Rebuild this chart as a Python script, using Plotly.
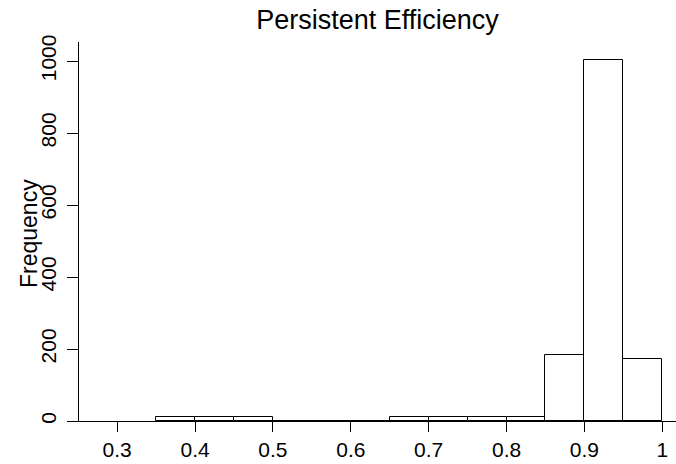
import plotly.graph_objects as go

# Histogram bins (left edges, width 0.05) and their counts
bin_starts = [0.35, 0.40, 0.45, 0.50, 0.55, 0.60, 0.65, 0.70, 0.75, 0.80, 0.85, 0.90, 0.95]
counts = [12, 12, 12, 0, 0, 0, 12, 12, 12, 12, 183, 1004, 171]
bin_width = 0.05

x_tick_values = [0.3, 0.4, 0.5, 0.6, 0.7, 0.8, 0.9, 1.0]
x_tick_labels = ["0.3", "0.4", "0.5", "0.6", "0.7", "0.8", "0.9", "1"]
y_tick_values = [0, 200, 400, 600, 800, 1000]
y_tick_labels = ["0", "200", "400", "600", "800", "1000"]

centers = [b + bin_width / 2 for b in bin_starts]

FONT = "Liberation Sans, Arial, Helvetica, sans-serif"

fig = go.Figure(
    go.Bar(
        x=centers,
        y=counts,
        width=bin_width,
        marker=dict(color="white", line=dict(color="black", width=1)),
        hoverinfo="x+y",
        cliponaxis=False,
    )
)

fig.update_layout(
    width=676,
    height=464,
    margin=dict(l=79, r=0, t=42, b=43, autoexpand=False),
    paper_bgcolor="white",
    plot_bgcolor="white",
    showlegend=False,
    font=dict(family=FONT, color="black", size=21),
    title=dict(
        text="Persistent Efficiency",
        x=0.5,
        xref="paper",
        y=1 - 20 / 464,
        yref="container",
        yanchor="middle",
        font=dict(size=27, family=FONT, color="black"),
    ),
    bargap=0,
    annotations=[
        dict(
            text="Frequency",
            textangle=-90,
            xref="paper",
            yref="paper",
            x=(29 - 79) / 597,
            y=(421 - 233) / 379,
            xanchor="center",
            yanchor="middle",
            showarrow=False,
            font=dict(size=23, family=FONT, color="black"),
        )
    ],
)

fig.update_xaxes(
    range=[0.251, 1.0176],
    tickvals=x_tick_values,
    ticktext=x_tick_labels,
    showline=True,
    linecolor="black",
    linewidth=1,
    ticks="outside",
    ticklen=10,
    tickcolor="black",
    tickwidth=1,
    showgrid=False,
    zeroline=False,
    tickfont=dict(size=21),
    ticklabelstandoff=0,
    automargin=False,
)

fig.update_yaxes(
    range=[0, 1053],
    tickvals=y_tick_values,
    ticktext=y_tick_labels,
    tickangle=-90,
    showline=True,
    linecolor="black",
    linewidth=1,
    ticks="outside",
    ticklen=11,
    tickcolor="black",
    tickwidth=1,
    showgrid=False,
    zeroline=False,
    tickfont=dict(size=21),
    ticklabelstandoff=3,
    automargin=False,
)

fig.write_html("out.html")
